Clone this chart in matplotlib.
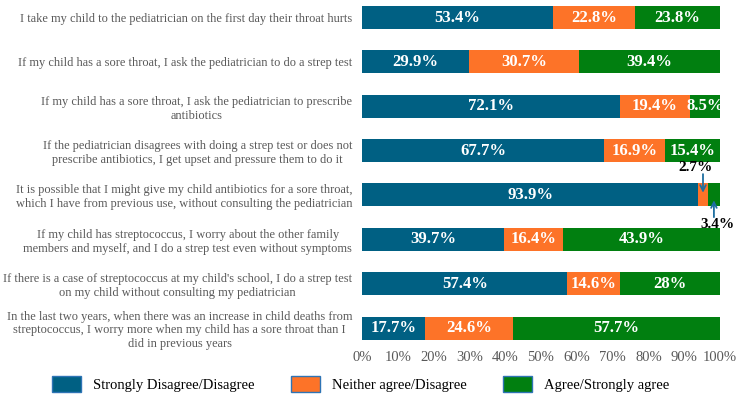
import numpy as np
import matplotlib.pyplot as plt
from matplotlib.patches import Patch

plt.rcParams['font.family'] = ['Liberation Serif', 'DejaVu Serif']

questions = [
    "I take my child to the pediatrician on the first day their throat hurts",
    "If my child has a sore throat, I ask the pediatrician to do a strep test",
    "If my child has a sore throat, I ask the pediatrician to prescribe\nantibiotics",
    "If the pediatrician disagrees with doing a strep test or does not\nprescribe antibiotics, I get upset and pressure them to do it",
    "It is possible that I might give my child antibiotics for a sore throat,\nwhich I have from previous use, without consulting the pediatrician",
    "If my child has streptococcus, I worry about the other family\nmembers and myself, and I do a strep test even without symptoms",
    "If there is a case of streptococcus at my child's school, I do a strep test\non my child without consulting my pediatrician",
    "In the last two years, when there was an increase in child deaths from\nstreptococcus, I worry more when my child has a sore throat than I\ndid in previous years",
]
disagree = [53.4, 29.9, 72.1, 67.7, 93.9, 39.7, 57.4, 17.7]
neither = [22.8, 30.7, 19.4, 16.9, 2.7, 16.4, 14.6, 24.6]
agree = [23.8, 39.4, 8.5, 15.4, 3.4, 43.9, 28.0, 57.7]
series_names = ["Strongly Disagree/Disagree", "Neither agree/Disagree", "Agree/Strongly agree"]
colors = ["#006083", "#fd7328", "#017f10"]

fig = plt.figure(figsize=(7.43, 4.01), dpi=100)
ax = fig.add_axes([362 / 743, 1 - 348 / 401, 358 / 743, 346 / 401])

y = np.arange(len(questions))
left = np.zeros(len(questions))
for vals, col in zip([disagree, neither, agree], colors):
    vals = np.array(vals)
    ax.barh(y, vals, left=left, height=0.52, color=col)
    for yi, l, v in zip(y, left, vals):
        if v >= 5:
            ax.text(l + v / 2, yi, f"{v:g}%", ha='center', va='center', color='white',
                    fontsize=12, fontweight='bold')
    left = left + vals

# small segments of row 5 get outside labels with arrows
i = 4
arrow = dict(arrowstyle='->', color='#1f6fa0', lw=1.3, shrinkA=0, shrinkB=0)
xo = disagree[i] + neither[i] / 2
ax.annotate('', xy=(xo, i - 0.05), xytext=(xo, i - 0.47), arrowprops=arrow)
ax.text(xo - 2.0, i - 0.62, f"{neither[i]:g}%", ha='center', va='center',
        fontsize=11, fontweight='bold', color='black')
xg = 100 - agree[i] / 2
ax.annotate('', xy=(xg, i + 0.12), xytext=(xg, i + 0.5), arrowprops=arrow)
ax.text(xg + 1.0, i + 0.66, f"{agree[i]:g}%", ha='center', va='center',
        fontsize=11, fontweight='bold', color='black')

ax.set_xlim(0, 100)
ax.set_ylim(7.45, -0.35)
ax.set_xticks(np.arange(0, 101, 10))
ax.set_xticklabels([f"{t}%" for t in range(0, 101, 10)], fontsize=10.5, color='#595959')
ax.set_yticks(y)
ax.set_yticklabels(questions, fontsize=8.9, color='#595959', linespacing=1.2)
for lab in ax.get_yticklabels():
    lab.set_multialignment('center')
ax.tick_params(axis='both', length=0)
ax.tick_params(axis='y', pad=7)
ax.tick_params(axis='x', pad=2)
for s in ax.spines.values():
    s.set_visible(False)

handles = [Patch(facecolor=c, edgecolor='#2e74b5', linewidth=1) for c in colors]
fig.legend(handles, series_names, loc='center', bbox_to_anchor=(0.485, 1 - 384 / 401),
           ncol=3, frameon=False, fontsize=10.5, handlelength=2.0, handleheight=1.35,
           handletextpad=0.8, columnspacing=2.5)

fig.savefig("out.png", dpi=100)
